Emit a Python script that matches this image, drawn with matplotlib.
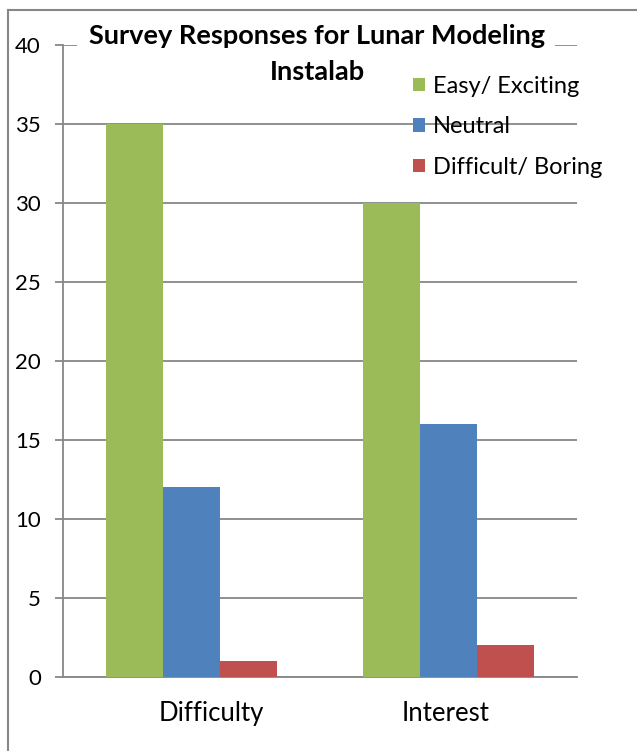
import matplotlib
matplotlib.use("Agg")
import matplotlib.pyplot as plt
import numpy as np
from matplotlib.lines import Line2D
from matplotlib.patches import Rectangle
from matplotlib.transforms import ScaledTranslation

plt.rcParams['font.family'] = ['Lato', 'DejaVu Sans']

categories = ["Difficulty", "Interest"]
series_names = ["Easy/ Exciting", "Neutral", "Difficult/ Boring"]
easy_exciting = [35, 30]
neutral = [12, 16]
difficult_boring = [1, 2]
y_ticks = [0, 5, 10, 15, 20, 25, 30, 35, 40]
title_lines = ["Survey Responses for Lunar Modeling", "Instalab"]

colors = ["#9BBB59", "#4F81BD", "#C0504D"]
grid_color = "#878787"

W, H = 637, 751
fig = plt.figure(figsize=(W / 100, H / 100), dpi=100)
ax = fig.add_axes([63 / W, 1 - 677 / H, (577 - 63) / W, (677 - 45) / H])

x = np.arange(len(categories))
width = 0.222
for i, (vals, name, c) in enumerate(zip([easy_exciting, neutral, difficult_boring], series_names, colors)):
    ax.bar(x + (i - 1) * width, vals, width, color=c, label=name, zorder=3)

ax.set_xlim(-0.5, len(categories) - 0.5)
ax.set_ylim(0, 40)
ax.set_yticks(y_ticks)
ax.set_yticklabels([str(t) for t in y_ticks], fontsize=16)
ax.set_xticks(x)
ax.set_xticklabels(categories, fontsize=18.5)
ax.tick_params(axis='x', length=0, pad=17)
ax.tick_params(axis='y', length=6, width=1.3, color=grid_color, pad=10)
ax.yaxis.grid(True, color=grid_color, linewidth=1.3, zorder=0)
for side in ["top", "right"]:
    ax.spines[side].set_visible(False)
for side in ["left", "bottom"]:
    ax.spines[side].set_color(grid_color)
    ax.spines[side].set_linewidth(1.3)

# nudge the first category label to the right, as in the Excel layout
lbl_shift = [20, -3]
for lbl, dx in zip(ax.get_xticklabels(), lbl_shift):
    lbl.set_transform(lbl.get_transform() + ScaledTranslation(dx / 100, 0, fig.dpi_scale_trans))

fig.legend(loc="upper left", bbox_to_anchor=(401 / W, 1 - 64 / H),
           frameon=False, fontsize=17, handlelength=0.5, handleheight=0.5,
           handletextpad=0.35, labelspacing=0.83, borderpad=0)

# white band where the title sits over the top gridline
fig.add_artist(Rectangle((77 / W, 1 - 52 / H), (555 - 77) / W, 14 / H,
                         transform=fig.transFigure, facecolor="white",
                         edgecolor="none", zorder=2))
for line, ypix in zip(title_lines, [36, 72]):
    fig.text(317 / W, 1 - ypix / H, line, ha="center", va="center",
             fontsize=19.5, fontweight="bold", zorder=3)

# outer chart frame: left and top edges only
fig.add_artist(Line2D([8 / W, 8 / W], [0, 1 - 10 / H], transform=fig.transFigure,
                      color=grid_color, linewidth=1.5))
fig.add_artist(Line2D([8 / W, 1], [1 - 10 / H, 1 - 10 / H], transform=fig.transFigure,
                      color=grid_color, linewidth=1.5))

fig.savefig("out.png", dpi=100)
